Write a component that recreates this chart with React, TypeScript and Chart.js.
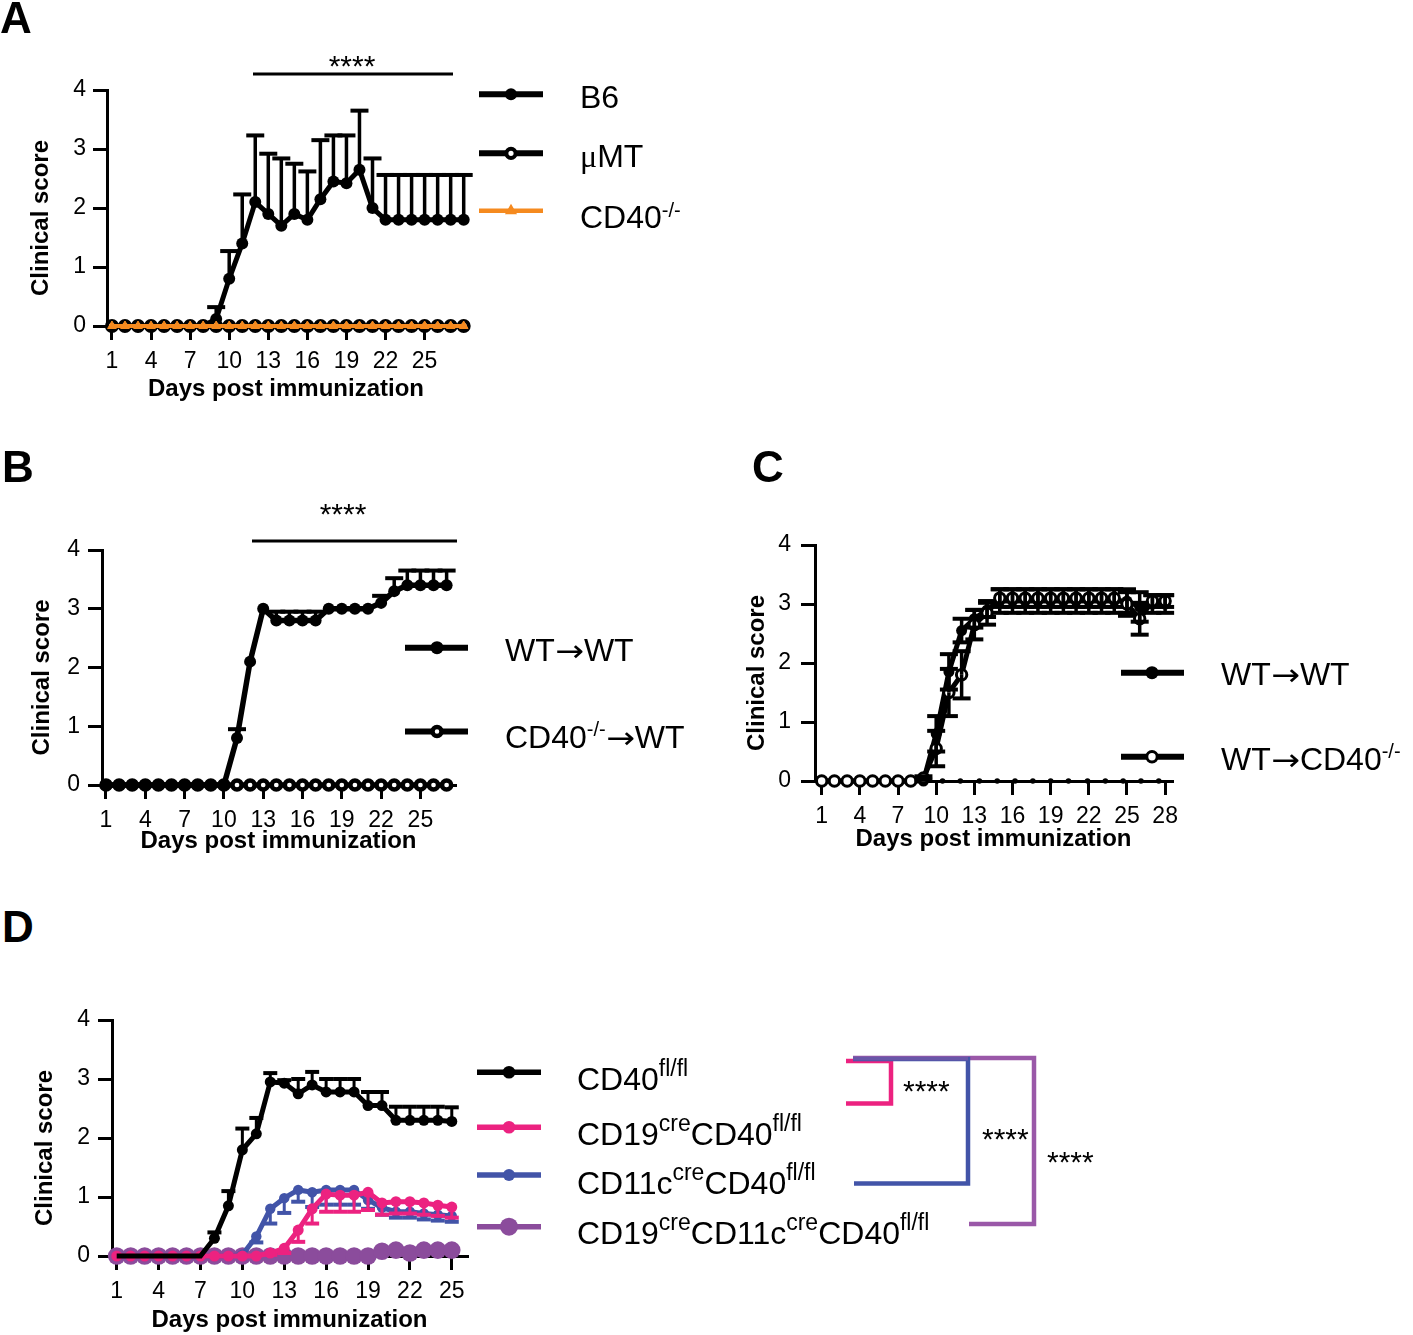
import React, { useEffect, useRef } from 'react';
import { Chart, registerables } from 'chart.js';

Chart.register(...registerables);

const SANS = '"Liberation Sans", Arial, Helvetica, sans-serif';
const SERIF = '"Liberation Serif", "Times New Roman", serif';
const ARROW_FONT = '"DejaVu Sans", "Liberation Sans", sans-serif';
Chart.defaults.font.family = SANS;

const BLACK = '#000000';
const ORANGE = '#f58a1f';
const PINK = '#ec2280';
const BLUE = '#4254a8';
const PURPLE = '#8b4c9c';
const PURPLE_BR = '#9a58a8';

const yTicks = [0, 1, 2, 3, 4];

// ---------------- Panel A ----------------
const daysA = [1, 2, 3, 4, 5, 6, 7, 8, 9, 10, 11, 12, 13, 14, 15, 16, 17, 18, 19, 20, 21, 22, 23, 24, 25, 26, 27, 28];
const ticksA = [1, 4, 7, 10, 13, 16, 19, 22, 25];
const b6Mean = [0, 0, 0, 0, 0, 0, 0, 0, 0.12, 0.8, 1.4, 2.1, 1.9, 1.7, 1.9, 1.8, 2.15, 2.45, 2.42, 2.65, 2.0, 1.8, 1.8, 1.8, 1.8, 1.8, 1.8, 1.8];
const b6Sem = [0, 0, 0, 0, 0, 0, 0, 0, 0.2, 0.47, 0.83, 1.13, 1.02, 1.14, 0.85, 0.82, 1.0, 0.78, 0.81, 1.0, 0.84, 0.76, 0.76, 0.76, 0.76, 0.76, 0.76, 0.76];
const muMTMean = [0, 0, 0, 0, 0, 0, 0, 0, 0, 0, 0, 0, 0, 0, 0, 0, 0, 0, 0, 0, 0, 0, 0, 0, 0, 0, 0, 0];
const cd40KoMean = [0, 0, 0, 0, 0, 0, 0, 0, 0, 0, 0, 0, 0, 0, 0, 0, 0, 0, 0, 0, 0, 0, 0, 0, 0, 0, 0, 0];

// ---------------- Panel B ----------------
const daysB = [1, 2, 3, 4, 5, 6, 7, 8, 9, 10, 11, 12, 13, 14, 15, 16, 17, 18, 19, 20, 21, 22, 23, 24, 25, 26, 27];
const ticksB = [1, 4, 7, 10, 13, 16, 19, 22, 25];
const wtToWtB = [0, 0, 0, 0, 0, 0, 0, 0, 0, 0, 0.8, 2.1, 3.0, 2.8, 2.8, 2.8, 2.8, 3.0, 3.0, 3.0, 3.0, 3.1, 3.3, 3.4, 3.4, 3.4, 3.4];
const wtToWtBSem = [0, 0, 0, 0, 0, 0, 0, 0, 0, 0, 0.15, 0, 0, 0.15, 0.15, 0.15, 0.15, 0, 0, 0, 0, 0.12, 0.22, 0.25, 0.25, 0.25, 0.25];
const koToWtB = [0, 0, 0, 0, 0, 0, 0, 0, 0, 0, 0, 0, 0, 0, 0, 0, 0, 0, 0, 0, 0, 0, 0, 0, 0, 0, 0];

// ---------------- Panel C ----------------
const daysC = [1, 2, 3, 4, 5, 6, 7, 8, 9, 10, 11, 12, 13, 14, 15, 16, 17, 18, 19, 20, 21, 22, 23, 24, 25, 26, 27, 28];
const ticksC = [1, 4, 7, 10, 13, 16, 19, 22, 25, 28];
const wtToWtC = [0, 0, 0, 0, 0, 0, 0, 0, 0, 0.8, 1.85, 2.55, 2.75, 2.9, 3.05, 3.05, 3.05, 3.05, 3.05, 3.05, 3.05, 3.05, 3.05, 3.05, 3.05, 2.95, 3.0, 3.0];
const wtToWtCSem = [0, 0, 0, 0, 0, 0, 0, 0, 0, 0.3, 0.3, 0.2, 0.15, 0.12, 0.2, 0.2, 0.2, 0.2, 0.2, 0.2, 0.2, 0.2, 0.2, 0.2, 0.2, 0.25, 0.15, 0.15];
const wtToKoC = [0, 0, 0, 0, 0, 0, 0, 0, 0.05, 0.55, 1.5, 1.8, 2.65, 2.85, 3.1, 3.1, 3.1, 3.1, 3.1, 3.1, 3.1, 3.1, 3.1, 3.1, 3.0, 2.75, 3.05, 3.05];
const wtToKoCSem = [0, 0, 0, 0, 0, 0, 0, 0, 0.03, 0.3, 0.4, 0.4, 0.25, 0.2, 0.15, 0.15, 0.15, 0.15, 0.15, 0.15, 0.15, 0.15, 0.15, 0.15, 0.2, 0.27, 0.1, 0.1];
const baselineDotDaysC = [10.5, 11.9, 13.4, 14.8, 16.2, 17.6, 19.0, 20.4, 21.9, 23.3, 24.7, 26.1, 27.5];
const baselineDotValsC = [0, 0, 0, 0, 0, 0, 0, 0, 0, 0, 0, 0, 0];

// ---------------- Panel D ----------------
const daysD = [1, 2, 3, 4, 5, 6, 7, 8, 9, 10, 11, 12, 13, 14, 15, 16, 17, 18, 19, 20, 21, 22, 23, 24, 25];
const ticksD = [1, 4, 7, 10, 13, 16, 19, 22, 25];
const cd40flMean = [0, 0, 0, 0, 0, 0, 0, 0.3, 0.85, 1.8, 2.07, 2.95, 2.93, 2.75, 2.9, 2.78, 2.78, 2.78, 2.55, 2.55, 2.3, 2.3, 2.3, 2.3, 2.28];
const cd40flSem = [0, 0, 0, 0, 0, 0, 0, 0.1, 0.25, 0.36, 0.27, 0.15, 0.05, 0.25, 0.22, 0.22, 0.22, 0.22, 0.23, 0.23, 0.23, 0.23, 0.23, 0.23, 0.24];
const cd19Mean = [0, 0, 0, 0, 0, 0, 0, 0, 0, 0, 0, 0.05, 0.13, 0.44, 0.8, 1.05, 1.03, 1.03, 1.08, 0.9, 0.92, 0.92, 0.9, 0.86, 0.83];
const cd19Sem = [0, 0, 0, 0, 0, 0, 0, 0, 0, 0, 0, 0.03, 0.08, 0.2, 0.25, 0.3, 0.28, 0.28, 0.3, 0.2, 0.2, 0.2, 0.2, 0.18, 0.18];
const cd11cMean = [0, 0, 0, 0, 0, 0, 0, 0, 0, 0.02, 0.33, 0.8, 0.98, 1.12, 1.08, 1.12, 1.12, 1.12, 0.95, 0.82, 0.75, 0.75, 0.72, 0.7, 0.68];
const cd11cSem = [0, 0, 0, 0, 0, 0, 0, 0, 0, 0.02, 0.1, 0.25, 0.25, 0.2, 0.25, 0.25, 0.25, 0.25, 0.15, 0.12, 0.1, 0.1, 0.1, 0.1, 0.1];
const doubleKoMean = [0, 0, 0, 0, 0, 0, 0, 0, 0, 0, 0, 0, 0, 0, 0, 0, 0, 0, 0, 0.08, 0.1, 0.05, 0.1, 0.1, 0.1];

// ---------------- plugins ----------------
function drawErrorBars(chart: any, index: number) {
  const ds = chart.data.datasets[index];
  const eb = ds.errorBars;
  if (!eb) return;
  const meta = chart.getDatasetMeta(index);
  const ys = chart.scales.y;
  const ctx = chart.ctx;
  ctx.save();
  ctx.strokeStyle = eb.color;
  ctx.lineCap = 'butt';
  meta.data.forEach((el: any, i: number) => {
    const v = ds.data[i].y;
    const draw = (err: number, dir: number) => {
      if (!err) return;
      const yy = ys.getPixelForValue(v + dir * err);
      ctx.lineWidth = eb.width;
      ctx.beginPath();
      ctx.moveTo(el.x, el.y);
      ctx.lineTo(el.x, yy);
      ctx.stroke();
      ctx.lineWidth = eb.capWidth;
      ctx.beginPath();
      ctx.moveTo(el.x - eb.cap, yy);
      ctx.lineTo(el.x + eb.cap, yy);
      ctx.stroke();
    };
    if (eb.up) draw(eb.up[i], 1);
    if (eb.down) draw(eb.down[i], -1);
  });
  ctx.restore();
}

const errorBarPlugin = {
  id: 'errorBars',
  beforeDatasetDraw(chart: any, args: any) {
    const ds = chart.data.datasets[args.index];
    if (ds.errorBars && !ds.errorBars.onTop) drawErrorBars(chart, args.index);
  },
  afterDatasetsDraw(chart: any) {
    chart.data.datasets.forEach((ds: any, i: number) => {
      if (ds.errorBars && ds.errorBars.onTop) drawErrorBars(chart, i);
    });
  },
};

function drawMarker(ctx: CanvasRenderingContext2D, m: any, x: number, y: number) {
  ctx.beginPath();
  if (m.type === 'triangle') {
    const r = m.r;
    ctx.moveTo(x, y - r);
    ctx.lineTo(x + r * 0.866, y + r * 0.5);
    ctx.lineTo(x - r * 0.866, y + r * 0.5);
    ctx.closePath();
  } else {
    ctx.arc(x, y, m.r, 0, Math.PI * 2);
  }
  if (m.fill) {
    ctx.fillStyle = m.fill;
    ctx.fill();
  }
  if (m.stroke) {
    ctx.strokeStyle = m.stroke;
    ctx.lineWidth = m.sw;
    ctx.stroke();
  }
}

function makeDecor(decor: any, ox: number, oy: number) {
  return {
    id: 'decor',
    afterDraw(chart: any) {
      const ctx: CanvasRenderingContext2D = chart.ctx;
      ctx.save();
      ctx.translate(-ox, -oy);
      (decor.lines || []).forEach((l: any) => {
        ctx.save();
        ctx.globalAlpha = l.alpha ?? 1;
        ctx.strokeStyle = l.color;
        ctx.lineWidth = l.width;
        ctx.lineJoin = 'miter';
        ctx.lineCap = 'butt';
        ctx.beginPath();
        l.pts.forEach((p: number[], i: number) => (i ? ctx.lineTo(p[0], p[1]) : ctx.moveTo(p[0], p[1])));
        ctx.stroke();
        ctx.restore();
      });
      (decor.legend || []).forEach((it: any) => {
        ctx.strokeStyle = it.color;
        ctx.lineWidth = it.lw;
        ctx.lineCap = 'butt';
        ctx.beginPath();
        ctx.moveTo(it.x1, it.y);
        ctx.lineTo(it.x2, it.y);
        ctx.stroke();
        drawMarker(ctx, it.marker, it.mx, it.y);
      });
      ctx.restore();
    },
  };
}

function pts(days: number[], vals: number[]) {
  return days.map((d, i) => ({ x: d, y: vals[i] }));
}

interface PanelSpec {
  canvasLeft: number; canvasTop: number; canvasW: number; canvasH: number;
  plotLeft: number; plotRight: number; plotTop: number; plotBottom: number;
  xMin: number; xMax: number; xTicks: number[]; xScaleH: number;
  yTitlePad: number; yLabelPad: number;
  datasets: any[]; decor: any;
}

// trailing spaces shift the rotated title slightly downward, as in the original figure
const Y_TITLE = 'Clinical score   ';

function buildOptions(p: PanelSpec): any {
  const tickFont = { family: SANS, size: 23 };
  const titleFont = { family: SANS, size: 24, weight: 'bold' };
  const grid = { display: true, drawOnChartArea: false, drawTicks: true, tickLength: 14, lineWidth: 3, color: BLACK };
  return {
    responsive: false,
    animation: false,
    devicePixelRatio: 1,
    layout: {
      padding: {
        left: 0,
        top: p.plotTop - p.canvasTop,
        right: p.canvasLeft + p.canvasW - p.plotRight,
        bottom: Math.max(0, p.canvasTop + p.canvasH - p.plotBottom - p.xScaleH),
      },
    },
    plugins: { legend: { display: false }, tooltip: { enabled: false }, title: { display: false } },
    scales: {
      x: {
        type: 'linear', min: p.xMin, max: p.xMax,
        afterBuildTicks: (s: any) => { s.ticks = p.xTicks.map((v) => ({ value: v })); },
        afterFit: (s: any) => { s.height = p.xScaleH; },
        ticks: { font: tickFont, color: BLACK, padding: 8, maxRotation: 0, autoSkip: false, callback: (v: any) => String(v) },
        grid,
        border: { display: true, color: BLACK, width: 3 },
        title: { display: true, text: 'Days post immunization', font: titleFont, color: BLACK, padding: { top: 0, bottom: 0 } },
      },
      y: {
        type: 'linear', min: 0, max: 4,
        afterBuildTicks: (s: any) => { s.ticks = yTicks.map((v) => ({ value: v })); },
        afterFit: (s: any) => { s.width = p.plotLeft - p.canvasLeft; },
        ticks: { font: tickFont, color: BLACK, padding: p.yLabelPad, callback: (v: any) => String(v) },
        grid,
        border: { display: true, color: BLACK, width: 3 },
        title: { display: true, text: Y_TITLE, font: titleFont, color: BLACK, padding: { top: p.yTitlePad, bottom: 0 } },
      },
    },
  };
}

function ChartPanel({ spec }: { spec: PanelSpec }) {
  const ref = useRef<HTMLCanvasElement>(null);
  useEffect(() => {
    const c = ref.current;
    if (!c) return;
    const chart = new Chart(c, {
      type: 'line',
      data: { datasets: spec.datasets },
      options: buildOptions(spec),
      plugins: [errorBarPlugin as any, makeDecor(spec.decor, spec.canvasLeft, spec.canvasTop) as any],
    } as any);
    return () => chart.destroy();
  }, []);
  return (
    <canvas
      ref={ref}
      width={spec.canvasW}
      height={spec.canvasH}
      style={{ position: 'absolute', left: spec.canvasLeft, top: spec.canvasTop, width: spec.canvasW, height: spec.canvasH }}
    />
  );
}

const lineBase = { tension: 0, clip: false, showLine: true };

const specA: PanelSpec = {
  canvasLeft: 0, canvasTop: 40, canvasW: 740, canvasH: 365,
  plotLeft: 107, plotRight: 465, plotTop: 90, plotBottom: 326,
  xMin: 0.62, xMax: 28.1, xTicks: ticksA, xScaleH: 78,
  yTitlePad: 26.6, yLabelPad: 7,
  datasets: [
    { ...lineBase, label: 'CD40-/-', data: pts(daysA, cd40KoMean), borderColor: ORANGE, borderWidth: 4, pointStyle: 'triangle', pointRadius: 5, pointBackgroundColor: ORANGE, pointBorderColor: ORANGE, pointBorderWidth: 1, order: 0 },
    { ...lineBase, label: 'μMT', data: pts(daysA, muMTMean), borderColor: BLACK, borderWidth: 5, pointRadius: 5, pointBackgroundColor: '#fff', pointBorderColor: BLACK, pointBorderWidth: 4, order: 1 },
    { ...lineBase, label: 'B6', data: pts(daysA, b6Mean), borderColor: BLACK, borderWidth: 5, pointRadius: 6, pointBackgroundColor: BLACK, pointBorderColor: BLACK, pointBorderWidth: 0, order: 2,
      errorBars: { up: b6Sem, color: BLACK, width: 3.5, cap: 9, capWidth: 4 } },
  ],
  decor: {
    lines: [{ pts: [[253, 74], [453, 74]], color: BLACK, width: 3 }],
    legend: [
      { x1: 479, x2: 543, mx: 511, y: 94.3, color: BLACK, lw: 6, marker: { r: 6, fill: BLACK } },
      { x1: 479, x2: 543, mx: 511, y: 153.3, color: BLACK, lw: 6, marker: { r: 4.6, fill: '#fff', stroke: BLACK, sw: 4 } },
      { x1: 479, x2: 543, mx: 511, y: 210.7, color: ORANGE, lw: 4.5, marker: { type: 'triangle', r: 7, fill: ORANGE } },
    ],
  },
};

const specB: PanelSpec = {
  canvasLeft: 0, canvasTop: 490, canvasW: 740, canvasH: 366,
  plotLeft: 102, plotRight: 455, plotTop: 550, plotBottom: 785,
  xMin: 0.695, xMax: 27.64, xTicks: ticksB, xScaleH: 71,
  yTitlePad: 27.6, yLabelPad: 8,
  datasets: [
    { ...lineBase, label: 'WT→WT', data: pts(daysB, wtToWtB), borderColor: BLACK, borderWidth: 5.5, pointRadius: 6, pointBackgroundColor: BLACK, pointBorderColor: BLACK, pointBorderWidth: 0, order: 0,
      errorBars: { up: wtToWtBSem, color: BLACK, width: 3.5, cap: 9, capWidth: 4 } },
    { ...lineBase, label: 'CD40-/-→WT', data: pts(daysB, koToWtB), borderColor: BLACK, borderWidth: 5.5, pointRadius: 4.6, pointBackgroundColor: '#fff', pointBorderColor: BLACK, pointBorderWidth: 4.5, order: 1 },
  ],
  decor: {
    lines: [{ pts: [[252, 541], [457, 541]], color: BLACK, width: 3 }],
    legend: [
      { x1: 405, x2: 468, mx: 437, y: 647.7, color: BLACK, lw: 6, marker: { r: 6.5, fill: BLACK } },
      { x1: 405, x2: 468, mx: 437, y: 731.5, color: BLACK, lw: 6, marker: { r: 4.5, fill: '#fff', stroke: BLACK, sw: 4.5 } },
    ],
  },
};

const specC: PanelSpec = {
  canvasLeft: 740, canvasTop: 490, canvasW: 673, canvasH: 365,
  plotLeft: 815, plotRight: 1172, plotTop: 545, plotBottom: 781,
  xMin: 0.473, xMax: 28.54, xTicks: ticksC, xScaleH: 73,
  yTitlePad: 2.6, yLabelPad: 10,
  datasets: [
    { ...lineBase, label: 'baseline', showLine: false, data: pts(baselineDotDaysC, baselineDotValsC), pointRadius: 2.8, pointBackgroundColor: BLACK, pointBorderWidth: 0, borderColor: BLACK, order: -1 },
    { ...lineBase, label: 'WT→CD40-/-', data: pts(daysC, wtToKoC), borderColor: BLACK, borderWidth: 5, pointRadius: 5.2, pointBackgroundColor: '#fff', pointBorderColor: BLACK, pointBorderWidth: 3, order: 0,
      errorBars: { up: wtToKoCSem, down: wtToKoCSem, color: BLACK, width: 3.5, cap: 9, capWidth: 4, onTop: true } },
    { ...lineBase, label: 'WT→WT', data: pts(daysC, wtToWtC), borderColor: BLACK, borderWidth: 5, pointRadius: 5.5, pointBackgroundColor: BLACK, pointBorderColor: BLACK, pointBorderWidth: 0, order: 1,
      errorBars: { up: wtToWtCSem, down: wtToWtCSem, color: BLACK, width: 3.5, cap: 9, capWidth: 4, onTop: true } },
  ],
  decor: {
    lines: [],
    legend: [
      { x1: 1121, x2: 1184, mx: 1152, y: 672.7, color: BLACK, lw: 6, marker: { r: 6.5, fill: BLACK } },
      { x1: 1121, x2: 1184, mx: 1152, y: 756.7, color: BLACK, lw: 6, marker: { r: 5.2, fill: '#fff', stroke: BLACK, sw: 3 } },
    ],
  },
};

const specD: PanelSpec = {
  canvasLeft: 0, canvasTop: 980, canvasW: 1100, canvasH: 355,
  plotLeft: 112, plotRight: 467, plotTop: 1020, plotBottom: 1256,
  xMin: 0.663, xMax: 26.09, xTicks: ticksD, xScaleH: 79,
  yTitlePad: 30.6, yLabelPad: 8,
  datasets: [
    { ...lineBase, label: 'CD40fl/fl', data: pts(daysD, cd40flMean), borderColor: BLACK, borderWidth: 5, pointRadius: (c: any) => (c.raw && c.raw.y === 0 ? 0 : 5.5), pointBackgroundColor: BLACK, pointBorderColor: BLACK, pointBorderWidth: 0, order: 0,
      errorBars: { up: cd40flSem, color: BLACK, width: 3, cap: 7, capWidth: 4 } },
    { ...lineBase, label: 'CD19creCD40fl/fl', data: pts(daysD, cd19Mean), borderColor: PINK, borderWidth: 5, pointRadius: 5.5, pointBackgroundColor: PINK, pointBorderColor: PINK, pointBorderWidth: 0, order: 1,
      errorBars: { down: cd19Sem, color: PINK, width: 3, cap: 7, capWidth: 4 } },
    { ...lineBase, label: 'CD11ccreCD40fl/fl', data: pts(daysD, cd11cMean), borderColor: BLUE, borderWidth: 5, pointRadius: 5.2, pointBackgroundColor: BLUE, pointBorderColor: BLUE, pointBorderWidth: 0, order: 2,
      errorBars: { down: cd11cSem, color: BLUE, width: 3, cap: 7, capWidth: 4 } },
    { ...lineBase, label: 'CD19creCD11ccreCD40fl/fl', data: pts(daysD, doubleKoMean), borderColor: PURPLE, borderWidth: 5, pointRadius: 8.8, pointBackgroundColor: PURPLE, pointBorderColor: PURPLE, pointBorderWidth: 0, order: 3 },
  ],
  decor: {
    lines: [
      { pts: [[846, 1061], [891, 1061], [891, 1103.5], [846, 1103.5]], color: PINK, width: 4.5 },
      { pts: [[853, 1058], [1034, 1058], [1034, 1224], [969, 1224]], color: PURPLE_BR, width: 4.5 },
      { pts: [[853, 1059], [968, 1059], [968, 1183.5], [854, 1183.5]], color: BLUE, width: 4.5 },
      { pts: [[853, 1058.5], [968, 1058.5]], color: PURPLE_BR, width: 4, alpha: 0.45 },
    ],
    legend: [
      { x1: 477, x2: 541, mx: 509, y: 1072.3, color: BLACK, lw: 5.5, marker: { r: 6.3, fill: BLACK } },
      { x1: 477, x2: 541, mx: 509, y: 1127.3, color: PINK, lw: 5.5, marker: { r: 6.3, fill: PINK } },
      { x1: 477, x2: 541, mx: 509, y: 1175, color: BLUE, lw: 5.5, marker: { r: 6, fill: BLUE } },
      { x1: 477, x2: 541, mx: 509, y: 1226.7, color: PURPLE, lw: 5.5, marker: { r: 9, fill: PURPLE } },
    ],
  },
};

function Txt(props: { left: number; top: number; size: number; bold?: boolean; center?: boolean; children: any }) {
  const { left, top, size, bold, center, children } = props;
  return (
    <div
      style={{
        position: 'absolute', left, top, fontFamily: SANS, fontSize: size, lineHeight: `${size}px`,
        fontWeight: bold ? 'bold' : 'normal', whiteSpace: 'nowrap', color: '#000',
        transform: center ? 'translateX(-50%)' : undefined,
      }}
    >
      {children}
    </div>
  );
}

function Sup(props: { children: any; size?: number; raise?: number }) {
  const { children, size = 23, raise = 14 } = props;
  return <span style={{ fontSize: size, position: 'relative', top: -raise, lineHeight: 0 }}>{children}</span>;
}

function Arrow() {
  return (
    <span style={{ fontFamily: ARROW_FONT, fontSize: 30, display: 'inline-block', transform: 'scaleX(1.15)', margin: '0 2px', lineHeight: 0 }}>→</span>
  );
}

const LEG = 32;

export default function App() {
  return (
    <div style={{ position: 'absolute', left: 0, top: 0, width: 1413, height: 1335, background: '#fff', overflow: 'hidden' }}>
      <ChartPanel spec={specA} />
      <ChartPanel spec={specB} />
      <ChartPanel spec={specC} />
      <ChartPanel spec={specD} />

      {/* panel letters */}
      <Txt left={0} top={-3.7} size={44} bold>A</Txt>
      <Txt left={2} top={445.3} size={44} bold>B</Txt>
      <Txt left={752} top={445.3} size={44} bold>C</Txt>
      <Txt left={2} top={905.3} size={44} bold>D</Txt>

      {/* significance */}
      <Txt left={352} top={51} size={30} center>****</Txt>
      <Txt left={343} top={499.4} size={30} center>****</Txt>
      <Txt left={903} top={1076} size={30}>****</Txt>
      <Txt left={982} top={1124.4} size={30}>****</Txt>
      <Txt left={1047} top={1147} size={30}>****</Txt>

      {/* legend A */}
      <Txt left={580} top={81} size={LEG}>B6</Txt>
      <Txt left={580} top={139.5} size={LEG}><span style={{ fontFamily: SERIF }}>μ</span>MT</Txt>
      <Txt left={580} top={201} size={LEG}>CD40<Sup size={20} raise={11}>-/-</Sup></Txt>

      {/* legend B */}
      <Txt left={505} top={634.4} size={LEG}>WT<Arrow />WT</Txt>
      <Txt left={505} top={721.4} size={LEG}>CD40<Sup size={20} raise={12}>-/-</Sup><Arrow />WT</Txt>

      {/* legend C */}
      <Txt left={1221} top={657.7} size={LEG}>WT<Arrow />WT</Txt>
      <Txt left={1221} top={743.1} size={LEG}>WT<Arrow />CD40<Sup size={20} raise={12}>-/-</Sup></Txt>

      {/* legend D */}
      <Txt left={577} top={1063.4} size={LEG}>CD40<Sup>fl/fl</Sup></Txt>
      <Txt left={577} top={1117.9} size={LEG}>CD19<Sup>cre</Sup>CD40<Sup>fl/fl</Sup></Txt>
      <Txt left={577} top={1166.9} size={LEG}>CD11c<Sup>cre</Sup>CD40<Sup>fl/fl</Sup></Txt>
      <Txt left={577} top={1217.4} size={LEG}>CD19<Sup>cre</Sup>CD11c<Sup>cre</Sup>CD40<Sup>fl/fl</Sup></Txt>
    </div>
  );
}
